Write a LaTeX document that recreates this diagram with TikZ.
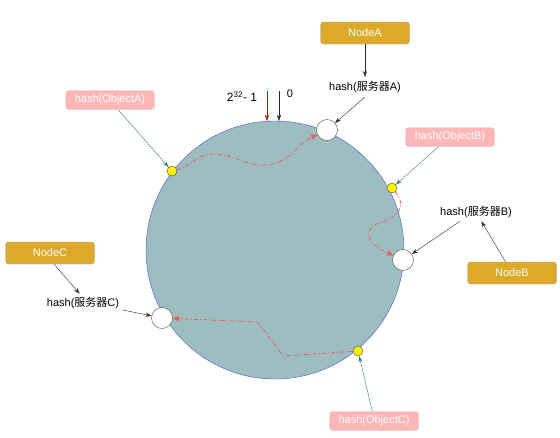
\documentclass[tikz,border=0pt]{standalone}
\usepackage{fontspec}
\setmainfont{Liberation Sans}
\newfontfamily\cjk{Noto Sans CJK SC}
\usetikzlibrary{positioning,arrows.meta}
\definecolor{ringFill}{RGB}{157,190,192}
\definecolor{ringLine}{RGB}{80,80,210}
\definecolor{nodeGold}{RGB}{220,170,40}
\definecolor{objPink}{RGB}{255,182,182}
\definecolor{objTeal}{RGB}{45,126,119}
\definecolor{walkRed}{RGB}{240,90,90}

\begin{document}
\begin{tikzpicture}[x=1pt,y=-1pt,
    font=\fontsize{11}{13}\selectfont,
    gold/.style={draw=gray!70,fill=nodeGold,text=white,rounded corners=3pt,
      minimum width=89pt,minimum height=22pt,inner sep=0pt},
    pink/.style={draw=gray!40,fill=objPink,text=white,rounded corners=3pt,
      minimum width=89pt,minimum height=19pt,inner sep=0pt},
    server/.style={circle,draw=black!70,fill=white,minimum size=21pt,inner sep=0pt},
    obj/.style={circle,draw=black!70,fill=yellow,minimum size=10pt,inner sep=0pt},
    link/.style={draw=black!85,-{Stealth[length=6pt,width=4pt]}},
    tealLink/.style={draw=objTeal,-{Stealth[length=6pt,width=4pt]}},
    walk/.style={draw=walkRed,line width=0.8pt,dash pattern=on 4pt off 2pt on 1pt off 2pt,
      -{Triangle[length=6pt,width=5pt]}}]
  \useasboundingbox (0,0) rectangle (560,437);
  % ring
  \node[circle,draw=ringLine,fill=ringFill,minimum size=258pt,inner sep=0pt] (ring) at (275,250) {};
  % start / end of the ring
  \coordinate (maxTop) at (267,91);
  \coordinate (maxPt) at (267,121);
  \coordinate (zeroTop) at (279,91);
  \coordinate (zeroPt) at (279,121);
  \draw[draw=red!80!black,-{Stealth[length=6pt,width=4pt]}] (maxTop) -- (maxPt);
  \draw[link] (zeroTop) -- (zeroPt);
  \node[font=\fontsize{12}{14}\selectfont] (lblMax) at (242,97) {2\textsuperscript{32}- 1};
  \node (lblZero) at (290,94) {0};
  % servers and objects on the ring
  \node[server] (sA) at (327,130) {};
  \node[server] (sB) at (403,260) {};
  \node[server] (sC) at (162,318) {};
  \node[obj] (oA) at (172,171) {};
  \node[obj] (oB) at (392,188) {};
  \node[obj] (oC) at (358,351) {};
  % server boxes
  \node[gold] (nA) at (365,33) {NodeA};
  \node[gold] (nB) at (512,273) {NodeB};
  \node[gold] (nC) at (50,253) {NodeC};
  \node[inner sep=4pt] (tA) at (365,87) {hash({\cjk 服务器}A)};
  \node (tB) at (476,212) {hash({\cjk 服务器}B)};
  \node (tC) at (83,303) {hash({\cjk 服务器}C)};
  \draw[link] (nA) -- (tA);
  \draw[link] (tA.south) -- (sA);
  \draw[link] (nB.120) -- (tB.-60);
  \draw[link] (tB.-150) -- (sB);
  \draw[link] (nC.-70) -- (tC.110);
  \draw[link] (tC.-10) -- (sC);
  % object boxes
  \node[pink] (pA) at (110,100) {hash(ObjectA)};
  \node[pink] (pB) at (450,137) {hash(ObjectB)};
  \node[pink] (pC) at (374,421) {hash(ObjectC)};
  \draw[tealLink] (pA.-50) -- (oA);
  \draw[tealLink] (pB.-140) -- (oB);
  \draw[tealLink] (pC.100) -- (oC);
  % clockwise walk to the next server
  \draw[walk] (oA) to[out=15,in=180] (213,154) to[out=0,in=185] (267,165)
    to[out=5,in=205] (sA);
  \draw[walk] (oB) .. controls (405,203) and (402,216) .. (382,222)
    .. controls (362,228) and (364,242) .. (sB);
  \draw[walk,rounded corners=4pt] (oC) -- (283,356) -- (258,322) -- (sC);
\end{tikzpicture}
\end{document}
